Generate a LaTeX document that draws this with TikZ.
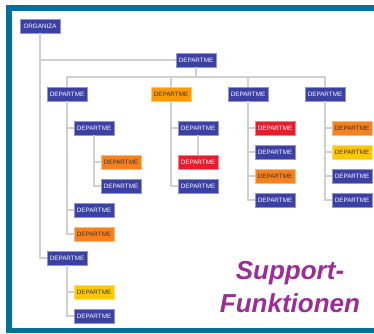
\documentclass[tikz,border=0pt]{standalone}
\usepackage{fontspec}
\setmainfont{Liberation Sans}
\definecolor{teal1}{RGB}{0,114,153}
\definecolor{dblue}{RGB}{58,64,164}
\definecolor{orgA}{RGB}{255,154,0}
\definecolor{orgB}{RGB}{245,130,31}
\definecolor{yel}{RGB}{255,200,0}
\definecolor{red1}{RGB}{228,30,45}
\definecolor{conn}{RGB}{208,208,208}
\definecolor{purp}{RGB}{155,45,150}
\begin{document}
\begin{tikzpicture}[x=1pt,y=-1pt,
  box/.style={rectangle,minimum width=40pt,minimum height=14pt,inner sep=0pt,
    font=\fontsize{6.3}{7}\selectfont,line width=0.6pt},
  bbox/.style={box,fill=dblue,draw=dblue!55!white,text=white},
  obox/.style={box,fill=orgA,draw=orgA!55!white,text=black!80},
  o2box/.style={box,fill=orgB,draw=orgB!55!white,text=black!80},
  ybox/.style={box,fill=yel,draw=yel!55!white,text=black!80},
  rbox/.style={box,fill=red1,draw=red1!55!white,text=white},
  link/.style={draw=conn,line width=1.2pt}]
\useasboundingbox (0,0) rectangle (374,333);
\fill[teal1] (6,5) rectangle (374,333);
\fill[white] (12,11) rectangle (374,328);
% nodes
\node[bbox] (org) at (40,26) {ORGANIZA};
\node[bbox] (top) at (196,60) {DEPARTME};
\node[bbox] (a) at (67,94) {DEPARTME};
\node[obox] (b) at (171,94) {DEPARTME};
\node[bbox] (c) at (248,94) {DEPARTME};
\node[bbox] (d) at (325,94) {DEPARTME};
\node[bbox] (a1) at (94,128) {DEPARTME};
\node[o2box] (a11) at (121,162) {DEPARTME};
\node[bbox] (a12) at (121,186) {DEPARTME};
\node[bbox] (a2) at (94,210) {DEPARTME};
\node[o2box] (a3) at (94,234) {DEPARTME};
\node[bbox] (e) at (67,258) {DEPARTME};
\node[ybox] (e1) at (94,292) {DEPARTME};
\node[bbox] (e2) at (94,316) {DEPARTME};
\node[bbox] (b1) at (198,128) {DEPARTME};
\node[rbox] (b11) at (198,162) {DEPARTME};
\node[bbox] (b2) at (198,186) {DEPARTME};
\node[rbox] (c1) at (275,128) {DEPARTME};
\node[bbox] (c2) at (275,152) {DEPARTME};
\node[o2box] (c3) at (275,176) {DEPARTME};
\node[bbox] (c4) at (275,200) {DEPARTME};
\node[o2box] (d1) at (352,128) {DEPARTME};
\node[ybox] (d2) at (352,152) {DEPARTME};
\node[bbox] (d3) at (352,176) {DEPARTME};
\node[bbox] (d4) at (352,200) {DEPARTME};
\coordinate (bus) at (196,77);
% connectors
\path[link] (org.south) |- (top.west);
\path[link] (org.south) |- (e.west);
\path[link] (top.south) -- (bus);
\foreach \n in {a,b,c,d} \path[link] (bus) -| (\n.north);
\foreach \n in {a1,a2,a3} \path[link] (a.south) |- (\n.west);
\foreach \n in {a11,a12} \path[link] (a1.south) |- (\n.west);
\foreach \n in {e1,e2} \path[link] (e.south) |- (\n.west);
\foreach \n in {b1,b2} \path[link] (b.south) |- (\n.west);
\path[link] (b1.south) -- (b11.north);
\foreach \n in {c1,c2,c3,c4} \path[link] (c.south) |- (\n.west);
\foreach \n in {d1,d2,d3,d4} \path[link] (d.south) |- (\n.west);
\node[text=purp,align=center,font=\fontsize{26}{33}\selectfont\bfseries\itshape] (lbl) at (290,287) {Support-\\Funktionen};
\end{tikzpicture}
\end{document}
